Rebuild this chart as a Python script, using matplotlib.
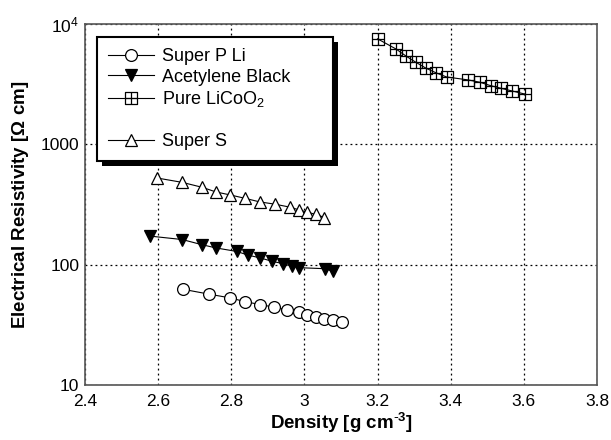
import matplotlib
matplotlib.use("Agg")
import matplotlib.pyplot as plt
from matplotlib.path import Path
from matplotlib.lines import Line2D
from matplotlib.patches import Rectangle
from matplotlib.ticker import FixedLocator, FixedFormatter, NullLocator

plt.rcParams['font.family'] = ['Liberation Sans', 'DejaVu Sans']
plt.rcParams['mathtext.default'] = 'regular'

# Super P Li
sp_x = [2.667, 2.740, 2.797, 2.837, 2.878, 2.917, 2.952, 2.984, 3.008, 3.031, 3.054, 3.077, 3.103]
sp_y = [62.6, 56.9, 53.0, 49.4, 46.7, 44.4, 42.2, 40.1, 38.3, 37.1, 35.7, 34.4, 33.1]
# Acetylene Black
ab_x = [2.578, 2.666, 2.719, 2.758, 2.815, 2.847, 2.879, 2.911, 2.942, 2.965, 2.986, 3.056, 3.079]
ab_y = [173, 162, 147, 138, 129, 120, 114, 107, 102, 97.5, 94.5, 92.7, 88]
# Pure LiCoO2
lc_x = [3.200, 3.251, 3.278, 3.305, 3.333, 3.361, 3.389, 3.448, 3.480, 3.509, 3.538, 3.568, 3.604]
lc_y = [7560, 6210, 5430, 4820, 4300, 3930, 3640, 3440, 3290, 3085, 2930, 2785, 2620]
# Super S
ss_x = [2.596, 2.666, 2.721, 2.758, 2.798, 2.837, 2.878, 2.919, 2.961, 2.985, 3.008, 3.032, 3.055]
ss_y = [527, 484, 440, 403, 380, 357, 333, 319, 301, 286, 273, 262, 247]

x_ticks = [2.4, 2.6, 2.8, 3.0, 3.2, 3.4, 3.6, 3.8]
x_labels = ['2.4', '2.6', '2.8', '3', '3.2', '3.4', '3.6', '3.8']
y_ticks = [10, 100, 1000, 10000]
y_labels = ['10', '100', '1000', '10$^4$']

# square with a cross inside
verts = [(-1, -1), (1, -1), (1, 1), (-1, 1), (-1, -1),
         (0, -1), (0, 1), (-1, 0), (1, 0)]
codes = [Path.MOVETO, Path.LINETO, Path.LINETO, Path.LINETO, Path.CLOSEPOLY,
         Path.MOVETO, Path.LINETO, Path.MOVETO, Path.LINETO]
box_cross = Path(verts, codes)

fig = plt.figure(figsize=(6.11, 4.4), dpi=100)
ax = fig.add_axes([0.139, 0.125, 0.838, 0.820])

kw = dict(color='black', lw=0.8, mec='black', mew=0.9)
l1, = ax.plot(sp_x, sp_y, marker='o', ms=8.5, mfc='white', label='Super P Li', **kw)
l2, = ax.plot(ab_x, ab_y, marker='v', ms=8.5, mfc='black', label='Acetylene Black', **kw)
l3, = ax.plot(lc_x, lc_y, marker=box_cross, ms=8, mfc='none', label='Pure LiCoO$_2$', **kw)
l4, = ax.plot(ss_x, ss_y, marker='^', ms=8.5, mfc='white', label='Super S', **kw)

ax.set_yscale('log')
ax.set_xlim(2.4, 3.8)
ax.set_ylim(10, 10000)
ax.xaxis.set_major_locator(FixedLocator(x_ticks))
ax.xaxis.set_major_formatter(FixedFormatter(x_labels))
ax.yaxis.set_major_locator(FixedLocator(y_ticks))
ax.yaxis.set_major_formatter(FixedFormatter(y_labels))
ax.yaxis.set_minor_locator(NullLocator())
ax.tick_params(axis='both', which='major', labelsize=12.5, length=0)
ax.tick_params(axis='x', pad=6.5)
ax.tick_params(axis='y', pad=4)
ax.grid(True, which='major', color='black', linestyle=(0, (1.5, 2.5)), lw=0.9)

for s in ax.spines.values():
    s.set_color('#555555')
    s.set_linewidth(1.2)

ax.set_xlabel('Density [g cm$^{\\text{-}3}$]', fontsize=13.5, fontweight='bold', labelpad=1)
ax.set_ylabel('Electrical Resistivity [$\\Omega$ cm]', fontsize=13.5, fontweight='bold', labelpad=7)

blank = Line2D([], [], color='none')
leg = ax.legend([l1, l2, l3, blank, l4],
                ['Super P Li', 'Acetylene Black', 'Pure LiCoO$_2$', '', 'Super S'],
                loc='upper left', bbox_to_anchor=(0.023, 0.964, 0.461, 0.0), mode='expand',
                fontsize=13, frameon=True, fancybox=False, framealpha=1,
                handlelength=2.6, handletextpad=0.4, labelspacing=0.2,
                borderpad=0.6, borderaxespad=0)
leg.get_frame().set_edgecolor('black')
leg.get_frame().set_linewidth(1.5)
leg.set_zorder(6)

# thick black drop shadow behind the legend box
fig.canvas.draw()
bb = leg.get_window_extent().transformed(fig.transFigure.inverted())
dx, dy = 5 / 611, 5 / 440
ax.add_patch(Rectangle((bb.x0 + dx, bb.y0 - dy), bb.width, bb.height,
                       transform=fig.transFigure, facecolor='black',
                       edgecolor='none', zorder=5.9, clip_on=False))

fig.savefig('out.png', dpi=100)
